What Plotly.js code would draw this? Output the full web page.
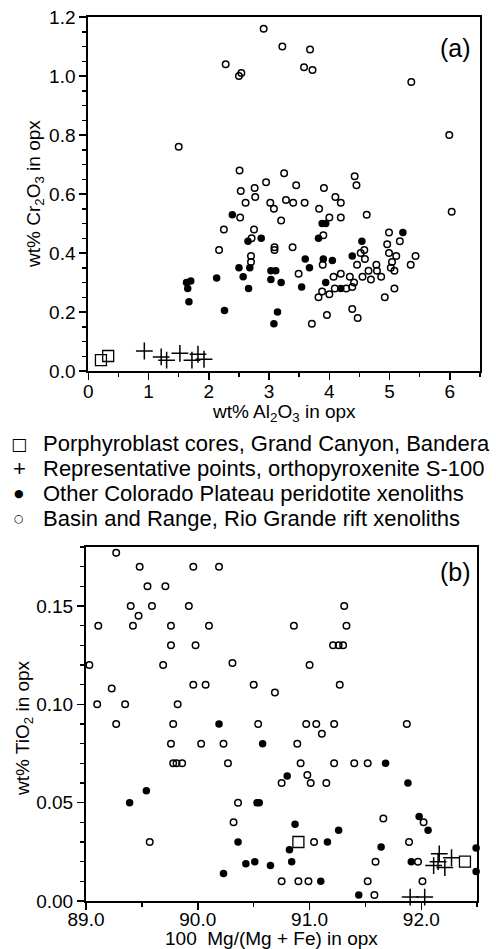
<!DOCTYPE html>
<html>
<head>
<meta charset="utf-8">
<script src="https://cdn.plot.ly/plotly-3.0.1.min.js"></script>
<style>html,body{margin:0;padding:0;background:#fff;}#chart{width:496px;height:949px;}</style>
</head>
<body>
<div id="chart"></div>
<script>
// ---------- Panel (a): Cr2O3 vs Al2O3 ----------
// Basin and Range, Rio Grande rift xenoliths (open circles)
var aAlOpen = [2.91,3.22,3.68,2.28,2.54,2.50,3.58,3.72,5.36,5.99,1.50,2.51,3.25,2.95,3.45,4.42,4.45,3.91,4.10,2.76,
  2.53,2.61,2.77,3.02,3.28,3.40,3.59,3.08,3.83,4.19,4.00,4.19,4.62,2.52,3.20,2.25,2.75,2.71,3.90,3.09,
  3.09,3.39,2.17,2.70,2.70,3.49,4.99,4.96,5.17,4.99,5.11,5.43,5.35,5.04,5.02,5.08,4.52,4.58,4.59,4.46,
  4.65,4.78,4.79,4.55,4.69,4.86,4.34,4.41,4.38,4.28,4.19,4.07,4.09,4.00,3.88,3.82,3.89,4.92,5.08,4.38,
  4.47,3.96,3.71,6.03];
var aCrOpen = [1.16,1.10,1.09,1.04,1.01,1.00,1.03,1.02,0.98,0.80,0.76,0.68,0.67,0.64,0.63,0.66,0.63,0.62,0.59,0.62,
  0.61,0.57,0.59,0.57,0.58,0.57,0.57,0.55,0.55,0.57,0.52,0.52,0.53,0.52,0.51,0.48,0.48,0.45,0.46,0.42,
  0.41,0.42,0.41,0.39,0.37,0.33,0.47,0.43,0.44,0.40,0.39,0.39,0.36,0.37,0.35,0.34,0.40,0.41,0.38,0.36,
  0.34,0.36,0.34,0.32,0.31,0.32,0.32,0.30,0.285,0.28,0.33,0.32,0.28,0.26,0.27,0.25,0.36,0.25,0.28,0.21,
  0.18,0.19,0.16,0.54];
// Other Colorado Plateau peridotite xenoliths (filled circles)
var aAlFilled = [2.39,2.87,2.65,3.82,3.88,3.94,4.54,5.22,2.50,2.68,2.57,2.66,1.63,1.70,1.65,1.67,2.13,2.26,3.03,3.11,
  3.03,3.20,3.14,3.08,3.60,3.67,3.54,3.90,4.05,3.94,4.19,4.38];
var aCrFilled = [0.53,0.45,0.44,0.45,0.50,0.50,0.44,0.47,0.35,0.35,0.32,0.28,0.30,0.305,0.28,0.235,0.315,0.205,0.34,0.34,
  0.31,0.30,0.20,0.16,0.38,0.35,0.285,0.38,0.375,0.30,0.28,0.39];
// Porphyroblast cores (open squares)
var aAlSquare = [0.21,0.33];
var aCrSquare = [0.037,0.051];
// Representative points, orthopyroxenite S-100 (plus)
var aAlPlus = [0.93,1.21,1.30,1.52,1.72,1.82,1.92];
var aCrPlus = [0.068,0.048,0.037,0.060,0.037,0.057,0.040];

// ---------- Panel (b): TiO2 vs Mg# ----------
var bMgOpen = [89.27,89.48,89.96,90.19,89.55,89.71,89.40,89.59,89.92,89.47,89.11,89.42,89.76,90.10,89.76,89.98,89.03,89.69,90.31,89.23,
  89.96,90.07,90.50,90.69,89.10,89.35,89.82,89.27,89.78,90.54,90.86,91.31,91.33,91.21,91.26,91.30,91.00,91.27,90.97,91.06,
  91.22,91.11,91.87,89.76,90.03,90.23,90.89,89.78,89.81,89.86,90.27,90.92,91.22,91.40,91.52,90.75,90.98,91.01,91.15,90.36,
  90.32,91.66,92.02,89.57,91.04,91.89,91.59,91.97,90.75,90.90,90.99,91.52,92.01,91.58];
var bTiOpen = [0.177,0.170,0.170,0.170,0.160,0.160,0.150,0.150,0.150,0.145,0.140,0.140,0.140,0.140,0.130,0.130,0.120,0.120,0.121,0.108,
  0.110,0.110,0.110,0.106,0.100,0.100,0.100,0.090,0.090,0.090,0.140,0.150,0.140,0.130,0.130,0.130,0.120,0.110,0.090,0.090,
  0.090,0.085,0.090,0.080,0.080,0.080,0.080,0.070,0.070,0.070,0.070,0.070,0.070,0.070,0.070,0.060,0.064,0.060,0.060,0.050,
  0.040,0.042,0.040,0.030,0.030,0.030,0.020,0.020,0.010,0.010,0.010,0.010,0.010,0.003];
var bMgFilled = [90.19,90.58,91.68,90.80,91.88,89.39,89.54,90.53,90.55,90.87,91.98,92.06,91.26,90.36,91.16,90.82,91.64,90.43,90.51,90.65,
  90.84,91.91,90.23,91.10,91.44,92.49,92.49];
var bTiFilled = [0.090,0.080,0.070,0.0636,0.060,0.050,0.056,0.050,0.050,0.039,0.043,0.036,0.036,0.030,0.030,0.026,0.0275,0.019,0.020,0.018,
  0.020,0.020,0.014,0.010,0.003,0.027,0.015];
var bMgSquare = [90.90,92.39];
var bTiSquare = [0.030,0.020];
var bMgPlus = [91.90,92.03,92.11,92.16,92.21,92.27,92.15];
var bTiPlus = [0.002,0.002,0.018,0.024,0.017,0.022,0.020];

var seriesNames = [
  'Porphyroblast cores, Grand Canyon, Bandera',
  'Representative points, orthopyroxenite S-100',
  'Other Colorado Plateau peridotite xenoliths',
  'Basin and Range, Rio Grande rift xenoliths'
];
var legendGlyphs = ['\u25A1', '+', '\u25CF', '\u25CB'];
var axisTitles = {
  ax: 'wt% Al<sub>2</sub>O<sub>3</sub> in opx',
  ay: 'wt% Cr<sub>2</sub>O<sub>3</sub> in opx',
  bx: '100&nbsp;&nbsp;Mg/(Mg + Fe) in opx',
  by: 'wt% TiO<sub>2</sub> in opx'
};

var FONT = 'Liberation Sans, Arial, Helvetica, sans-serif';
var openCircle = {symbol:'circle-open', size:6.5, color:'#000', line:{color:'#000', width:1.5}};
var filledCircle = {symbol:'circle', size:7.5, color:'#000', line:{width:0}};
var squareOpen = {symbol:'square-open', size:11, color:'#000', line:{color:'#000', width:1.3}};
var plusMk = {symbol:'cross-thin-open', size:12, color:'#000', line:{color:'#000', width:1.5}};

function tr(x, y, mk, xa, ya, name) {
  return {x:x, y:y, type:'scatter', mode:'markers', marker:mk, xaxis:xa, yaxis:ya,
          name:name, showlegend:false, cliponaxis:false, hoverinfo:'skip'};
}

var data = [
  tr(aAlOpen, aCrOpen, openCircle, 'x', 'y', seriesNames[3]),
  tr(aAlFilled, aCrFilled, filledCircle, 'x', 'y', seriesNames[2]),
  tr(aAlSquare, aCrSquare, squareOpen, 'x', 'y', seriesNames[0]),
  tr(aAlPlus, aCrPlus, plusMk, 'x', 'y', seriesNames[1]),
  tr(bMgOpen, bTiOpen, openCircle, 'x2', 'y2', seriesNames[3]),
  tr(bMgFilled, bTiFilled, filledCircle, 'x2', 'y2', seriesNames[2]),
  tr(bMgSquare, bTiSquare, squareOpen, 'x2', 'y2', seriesNames[0]),
  tr(bMgPlus, bTiPlus, plusMk, 'x2', 'y2', seriesNames[1])
];

function axisBase() {
  return {
    showline:true, linecolor:'#000', linewidth:2, mirror:true,
    showgrid:false, zeroline:false,
    ticks:'outside', ticklen:7, tickwidth:1.5, tickcolor:'#000',
    tickfont:{family:FONT, size:19, color:'#000'},
    automargin:false, fixedrange:true
  };
}

var xa = Object.assign(axisBase(), {
  domain:[0.0058, 1.0], range:[0, 6.5], tick0:0, dtick:1, anchor:'y', ticklabelstandoff:-5,
  minor:{dtick:0.5, ticklen:4, ticks:'outside', tickcolor:'#000', tickwidth:1.5}
});
var ya = Object.assign(axisBase(), {
  domain:[0.5995, 1.0], range:[0, 1.2], tick0:0, dtick:0.2, tickformat:'.1f', anchor:'x',
  minor:{dtick:0.05, ticklen:4, ticks:'outside', tickcolor:'#000', tickwidth:1.5}
});
var xb = Object.assign(axisBase(), {
  domain:[0, 0.993], range:[89.0, 92.5], tick0:89, dtick:1, tickformat:'.1f', anchor:'y2', ticklabelstandoff:-7,
  minor:{dtick:0.5, ticklen:4, ticks:'outside', tickcolor:'#000', tickwidth:1.5}
});
var yb = Object.assign(axisBase(), {
  domain:[0, 0.4005], range:[0, 0.18], tick0:0, dtick:0.05, tickformat:'.2f', anchor:'x2',
  minor:{dtick:0.01, ticklen:4, ticks:'outside', tickcolor:'#000', tickwidth:1.5}
});

var titleFont = {family:FONT, size:19, color:'#000'};
var annotations = [
  {text:'(a)', xref:'paper', yref:'paper', x:0.939, y:0.965, xanchor:'center', yanchor:'middle',
   showarrow:false, font:{family:FONT, size:25, color:'#000'}},
  {text:'(b)', xref:'paper', yref:'paper', x:0.939, y:0.372, xanchor:'center', yanchor:'middle',
   showarrow:false, font:{family:FONT, size:25, color:'#000'}},
  {text:axisTitles.ax, xref:'paper', yref:'paper', x:(284 - 86) / 394, y:(901 - 413) / 884,
   xanchor:'center', yanchor:'middle', showarrow:false, font:titleFont},
  {text:axisTitles.bx, xref:'paper', yref:'paper', x:(271 - 86) / 394, y:(901 - 938) / 884,
   xanchor:'center', yanchor:'middle', showarrow:false, font:titleFont},
  {text:axisTitles.ay, xref:'paper', yref:'paper', x:(35 - 86) / 394, y:(901 - 194) / 884, textangle:-90,
   xanchor:'center', yanchor:'middle', showarrow:false, font:titleFont},
  {text:axisTitles.by, xref:'paper', yref:'paper', x:(24 - 86) / 394, y:(901 - 728) / 884, textangle:-90,
   xanchor:'center', yanchor:'middle', showarrow:false, font:titleFont}
];
var legendY = [0.517, 0.489, 0.461, 0.433];
var glyphSize = [17, 22, 11, 11];
var glyphFont = ['DejaVu Sans, ' + FONT, FONT, 'DejaVu Sans, ' + FONT, 'DejaVu Sans, ' + FONT];
for (var i = 0; i < seriesNames.length; i++) {
  annotations.push({text:seriesNames[i], xref:'paper', yref:'paper', x:(41 - 86) / 394, y:legendY[i],
    xanchor:'left', yanchor:'middle', showarrow:false, font:{family:FONT, size:22, color:'#000'}});
  annotations.push({text:legendGlyphs[i], xref:'paper', yref:'paper', x:(19 - 86) / 394, y:legendY[i],
    xanchor:'center', yanchor:'middle', showarrow:false, font:{family:glyphFont[i], size:glyphSize[i], color:'#000'}});
}

var layout = {
  width:496, height:949,
  margin:{l:86, r:16, t:17, b:48, pad:0},
  paper_bgcolor:'#fff', plot_bgcolor:'#fff',
  showlegend:false,
  font:{family:FONT, color:'#000'},
  xaxis:xa, yaxis:ya, xaxis2:xb, yaxis2:yb,
  annotations:annotations
};

Plotly.newPlot('chart', data, layout, {staticPlot:true, displayModeBar:false});
</script>
</body>
</html>
